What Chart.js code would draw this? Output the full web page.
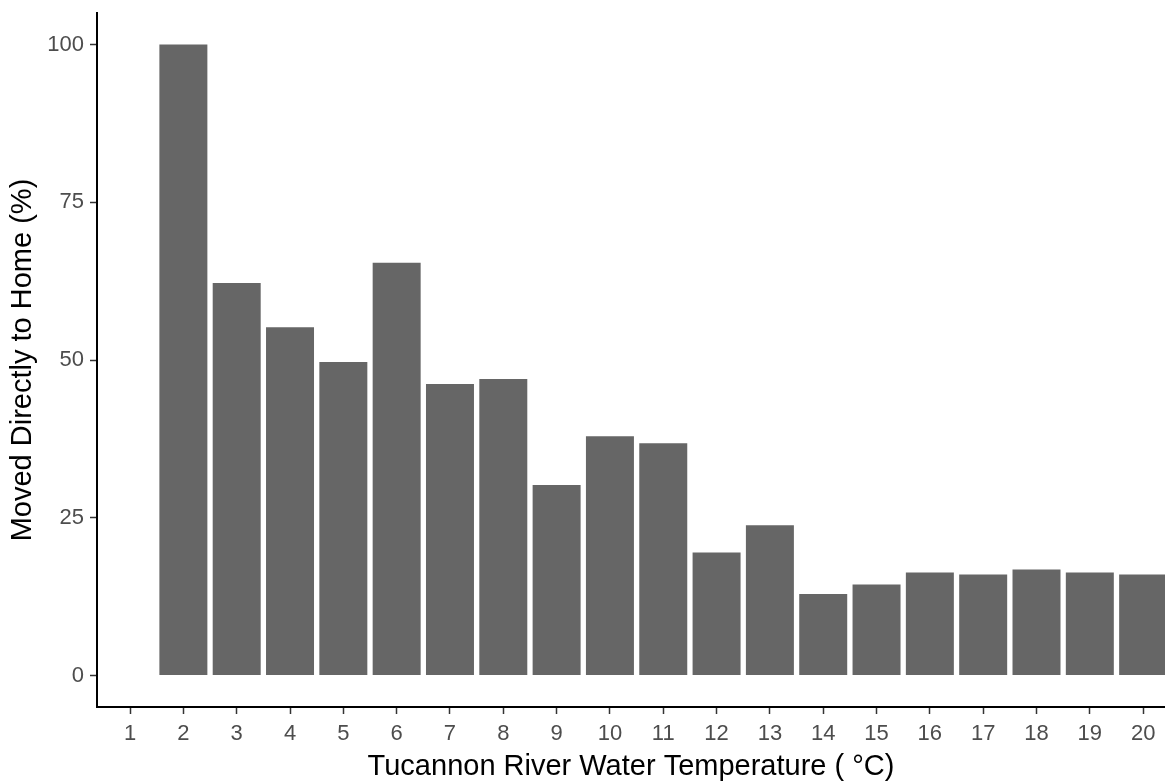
<!DOCTYPE html>
<html lang="en">
<head>
    <meta charset="UTF-8">
    <title>Tucannon River - Moved Directly to Home</title>
    <script src="https://cdn.jsdelivr.net/npm/chart.js"></script>
    <style>
        html, body {
            margin: 0;
            padding: 0;
            background: #ffffff;
            overflow: hidden;
        }
        canvas {
            display: block;
        }
    </style>
</head>
<body>
    <canvas id="homeChart" width="1165" height="782"></canvas>

    <script>
        // water temperature (degrees C) categories on the x axis
        const temps = [1, 2, 3, 4, 5, 6, 7, 8, 9, 10, 11, 12, 13, 14, 15, 16, 17, 18, 19, 20];
        // percent that moved directly to home (no bar at 1 C)
        const pctHome = [null, 100, 62.2, 55.2, 49.7, 65.4, 46.2, 47.0, 30.2, 37.9, 36.8,
                         19.5, 23.8, 12.9, 14.4, 16.3, 16.0, 16.8, 16.3, 16.0];
        const yTicks = [0, 25, 50, 75, 100];

        const fontFamily = '"Liberation Sans", Arial, sans-serif';

        // keep chart area exactly where the hooks put it (no label overflow padding)
        function noPad(scale) {
            scale.paddingTop = 0;
            scale.paddingBottom = 0;
            scale.paddingLeft = 0;
            scale.paddingRight = 0;
        }

        const ctx = document.getElementById('homeChart').getContext('2d');
        new Chart(ctx, {
            type: 'bar',
            data: {
                datasets: [{
                    data: temps.map((t, i) => ({ x: t, y: pctHome[i] })),
                    backgroundColor: '#666666',
                    borderWidth: 0,
                    categoryPercentage: 1,
                    barPercentage: 0.9
                }]
            },
            options: {
                responsive: false,
                animation: false,
                layout: {
                    padding: { top: 13, right: 0, bottom: 0, left: 0 }
                },
                plugins: {
                    legend: { display: false },
                    tooltip: { enabled: false }
                },
                scales: {
                    x: {
                        type: 'linear',
                        offset: false,
                        min: 0.38,
                        max: 20.41,
                        afterBuildTicks: (scale) => {
                            scale.ticks = temps.map(v => ({ value: v }));
                        },
                        afterFit: (scale) => {
                            scale.height = 75;
                            noPad(scale);
                        },
                        ticks: {
                            color: '#4d4d4d',
                            padding: 7,
                            autoSkip: false,
                            maxRotation: 0,
                            font: { family: fontFamily, size: 22 }
                        },
                        grid: {
                            offset: false,
                            drawOnChartArea: false,
                            drawTicks: true,
                            tickLength: 7,
                            tickColor: '#333333',
                            tickWidth: 1.5
                        },
                        border: {
                            display: true,
                            color: '#000000',
                            width: 2
                        },
                        title: {
                            display: true,
                            text: 'Tucannon River Water Temperature ( \u00B0C)',
                            color: '#000000',
                            padding: { top: 0, bottom: 0.5 },
                            font: { family: fontFamily, size: 29, lineHeight: 1 }
                        }
                    },
                    y: {
                        min: -5,
                        max: 105,
                        afterBuildTicks: (scale) => {
                            scale.ticks = yTicks.map(v => ({ value: v }));
                        },
                        afterFit: (scale) => {
                            scale.width = 97;
                            noPad(scale);
                        },
                        ticks: {
                            color: '#4d4d4d',
                            padding: 6,
                            font: { family: fontFamily, size: 22 }
                        },
                        grid: {
                            drawOnChartArea: false,
                            drawTicks: true,
                            tickLength: 7,
                            tickColor: '#333333',
                            tickWidth: 1.5
                        },
                        border: {
                            display: true,
                            color: '#000000',
                            width: 2
                        },
                        title: {
                            display: true,
                            text: 'Moved Directly to Home (%)',
                            color: '#000000',
                            padding: { top: 8.5, bottom: 0 },
                            font: { family: fontFamily, size: 29, lineHeight: 1 }
                        }
                    }
                }
            }
        });
    </script>
</body>
</html>
